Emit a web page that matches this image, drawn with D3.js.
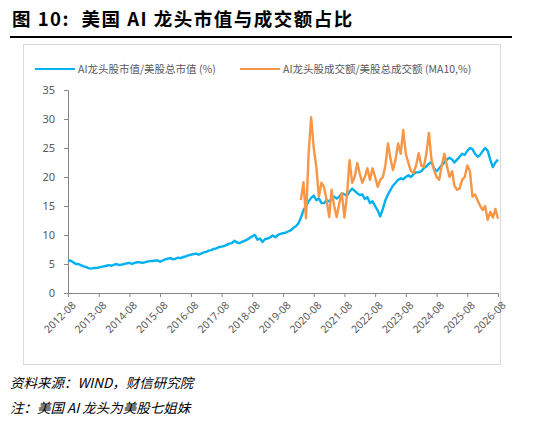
<!DOCTYPE html>
<html><head><meta charset="utf-8">
<script src="https://cdn.jsdelivr.net/npm/d3@7"></script>
<style>
body{margin:0;background:#fff;font-family:"Noto Sans CJK SC","Noto Sans",sans-serif}
</style></head><body>
<svg id="c" width="550" height="432"></svg>
<script>
// monthly, 2012-08 .. 2026-08
const blueStart = '2012-08'
const blueValues = [
  5.5,5.6,5.3,5.0,5.0,
  4.8,4.6,4.5,4.3,4.2,4.3,4.3,4.4,4.5,4.6,4.7,4.8,
  4.7,4.9,5.0,4.8,4.9,5.0,5.1,5.2,5.0,5.2,5.3,5.3,
  5.2,5.3,5.4,5.5,5.5,5.6,5.6,5.4,5.6,5.8,5.9,6.0,
  5.8,5.9,6.1,6.0,6.2,6.3,6.5,6.6,6.7,6.8,6.6,6.8,
  7.0,7.1,7.3,7.4,7.6,7.7,7.9,8.0,8.1,8.3,8.5,8.6,
  9.0,8.7,8.6,8.8,9.0,9.2,9.5,9.8,10.0,9.2,9.4,8.8,
  9.3,9.4,9.6,9.9,9.6,10.0,10.2,10.3,10.4,10.6,10.8,11.2,
  11.5,12.0,13.0,14.3,15.0,15.8,16.4,16.8,16.0,16.3,15.5,15.5,
  16.0,15.8,16.2,16.6,16.3,16.6,17.2,17.0,16.8,17.5,18.0,17.6,
  17.2,16.9,17.0,16.2,16.5,15.5,15.8,15.0,14.2,13.2,14.5,16.0,
  17.0,17.8,18.5,19.0,19.5,19.8,19.6,20.0,20.3,20.0,20.5,20.8,
  20.8,21.0,21.5,21.8,22.3,22.6,21.5,21.0,21.5,22.0,22.5,23.0,
  23.3,23.0,22.5,23.0,23.5,24.0,23.8,24.5,25.0,24.8,24.0,23.5,
  23.8,24.5,25.0,24.5,23.0,21.7,22.5,23.0
]
// monthly, 2020-03 .. 2026-08
const orangeStart = '2020-03'
const orangeValues = [
  16.0,19.1,12.9,24.0,30.3,25.0,21.7,16.6,19.0,18.3,
  16.0,13.1,17.8,15.0,13.1,15.5,17.2,13.0,17.0,22.9,19.0,20.0,
  22.4,20.5,19.0,20.0,21.5,19.5,21.5,20.0,18.3,19.5,20.0,22.0,
  25.8,23.0,21.2,23.0,25.8,24.0,28.1,24.0,22.4,21.0,20.7,22.0,
  24.1,22.0,21.7,24.0,27.6,23.0,21.2,20.0,19.5,22.0,24.0,22.0,
  20.0,21.0,18.5,17.8,18.0,19.5,20.0,22.0,21.0,16.6,17.0,16.0,
  15.0,14.3,15.0,12.6,14.0,13.0,14.5,12.8
]
const yTicks = [0,5,10,15,20,25,30,35]
const xTickYears = d3.range(2012, 2027)
const seriesNames = ['AI龙头股市值/美股总市值 (%)', 'AI龙头股成交额/美股总成交额 (MA10,%)']
const colors = ['#00B0F0', '#F79646']

const parse = d3.timeParse('%Y-%m')
const toSeries = (start, vals) => vals.map((v, i) => ({ d: d3.timeMonth.offset(parse(start), i), v }))
const blue = toSeries(blueStart, blueValues)
const orange = toSeries(orangeStart, orangeValues)

const svg = d3.select('#c')
const grey = '#595959'

// title
svg.append('text').attr('x', 12).attr('y', 26)
  .attr('font-size', 18.5).attr('font-weight', 'bold').attr('fill', '#000')
  .attr('letter-spacing', 1.5).attr('xml:space', 'preserve')
  .attr('font-family', '"Noto Sans CJK SC",sans-serif')
  .text('图 10:  美国 AI 龙头市值与成交额占比')
svg.append('line').attr('x1', 10).attr('x2', 512).attr('y1', 37).attr('y2', 37)
  .attr('stroke', '#000').attr('stroke-width', 2)

// chart frame
svg.append('rect').attr('x', 23.5).attr('y', 44.5).attr('width', 477).attr('height', 320)
  .attr('fill', 'none').attr('stroke', '#D9D9D9')

const x = d3.scaleTime().domain([parse('2012-08'), parse('2026-08')]).range([68, 498])
const y = d3.scaleLinear().domain([0, 35]).range([293, 90])

// axes
const ya = svg.append('g').attr('transform', 'translate(68,0)')
  .call(d3.axisLeft(y).tickValues(yTicks).tickSize(4).tickPadding(9))
ya.selectAll('text').attr('font-size', 11).attr('fill', grey).attr('font-family', '"Noto Sans",sans-serif')
ya.selectAll('line,path').attr('stroke', '#868686')

const xa = svg.append('g').attr('transform', 'translate(0,293)')
  .call(d3.axisBottom(x).tickValues(xTickYears.map(yr => parse(yr + '-08'))).tickFormat(d3.timeFormat('%Y-%m')).tickSize(4))
xa.selectAll('line,path').attr('stroke', '#868686')
xa.selectAll('text').attr('font-size', 10.5).attr('fill', grey).attr('font-family', '"Noto Sans",sans-serif')
  .attr('text-anchor', 'end').attr('dy', 0).attr('transform', 'translate(3,8) rotate(-45)')

// lines
const line = d3.line().x(p => x(p.d)).y(p => y(p.v))
;[blue, orange].forEach((s, i) => {
  svg.append('path').datum(s).attr('d', line).attr('fill', 'none')
    .attr('stroke', colors[i]).attr('stroke-width', 2.4).attr('stroke-linejoin', 'round')
})

// legend
const legX = [35, 240]
seriesNames.forEach((n, i) => {
  svg.append('line').attr('x1', legX[i]).attr('x2', legX[i] + 40).attr('y1', 69).attr('y2', 69)
    .attr('stroke', colors[i]).attr('stroke-width', 2.2)
  svg.append('text').attr('x', legX[i] + 43).attr('y', 73).attr('font-size', 10.5).attr('fill', grey)
    .text(n)
})

// footer
const foot = ['资料来源：WIND，财信研究院', '注：美国 AI 龙头为美股七姐妹']
foot.forEach((t, i) => {
  svg.append('text').attr('x', 10).attr('y', 388 + i * 25).attr('font-size', 13.5)
    .attr('font-style', 'italic').attr('fill', '#000').text(t)
})
</script>
</body></html>
